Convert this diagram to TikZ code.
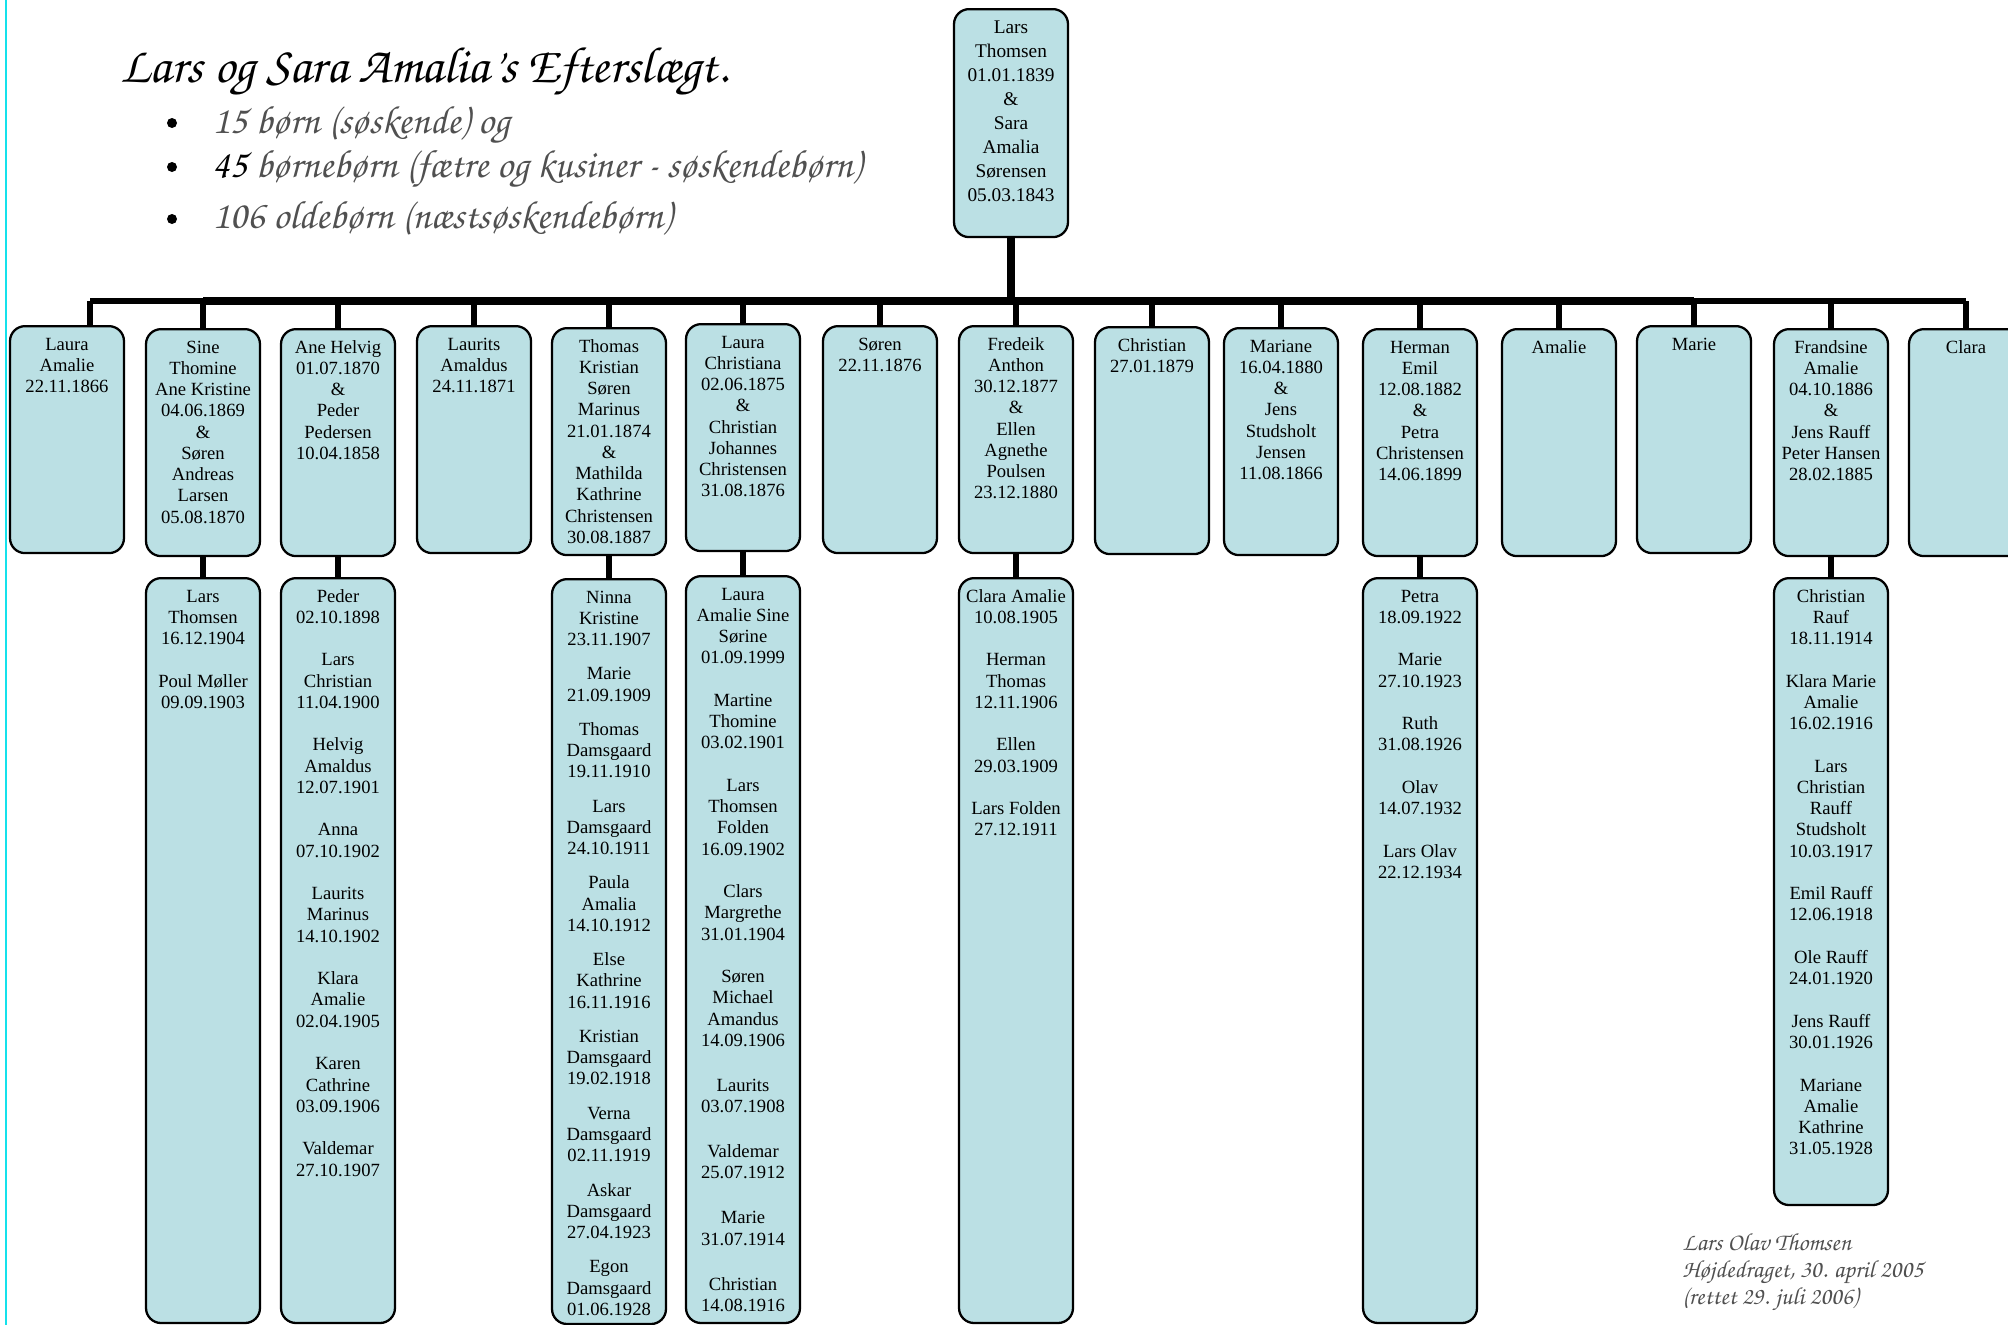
\documentclass[tikz,border=0pt]{standalone}
\usepackage[T1]{fontenc}
\usepackage{fontspec}
\setmainfont{Liberation Serif}

\definecolor{boxfill}{RGB}{187,224,228}
\definecolor{edgecyan}{RGB}{20,225,235}
\definecolor{pencil}{RGB}{80,80,80}

\newcommand{\hand}{\fontencoding{T1}\fontfamily{pzc}\fontseries{m}\fontshape{it}\selectfont}
\newcommand{\names}[2]{\parbox[t][#1][t]{2.28cm}{\centering\rule{0pt}{13.6pt}#2}}
\newcommand{\gap}{\\[12.1pt]}
\newcommand{\sgap}{\\[7.4pt]}

\begin{document}
\begin{tikzpicture}[x=0.02cm, y=-0.02cm]
  \tikzstyle{person}=[draw, line width=1.3pt, rounded corners=0.3cm, fill=boxfill, inner sep=0pt, anchor=north, font=\fontsize{10.6}{12.1}\selectfont]
  \tikzstyle{link}=[line width=3.4pt]
  \tikzstyle{trunk}=[line width=5.1pt]
  \tikzstyle{hw}=[anchor=base west, inner sep=0pt, text=pencil, font=\hand\fontsize{22.5}{26}\selectfont]
  \tikzstyle{dot}=[circle, fill, inner sep=0pt, minimum size=0.2cm]

  \useasboundingbox (0,0) rectangle (2008,1325);
  \draw[edgecyan, line width=1.5pt] (6,0) -- (6,1325);

  % heading
  \node[hw, text=black, font=\hand\fontsize{29}{33}\selectfont] (title) at (120,82) {Lars og Sara Amalia's Efterslægt.};
  \node[dot] (dot1) at (172,123) {};
  \node[dot] (dot2) at (172,167) {};
  \node[dot] (dot3) at (172,219) {};
  \node[hw] (line1) at (212,133) {15 børn (søskende) og};
  \node[hw] (line2) at (212,177) {{\color{black}45} børnebørn (fætre og kusiner - søskendebørn)};
  \node[hw] (line3) at (212,228) {106 oldebørn (næstsøskendebørn)};

  % parents
  \node[person, font=\fontsize{11}{13.7}\selectfont] (lars) at (1011,8) {\names{4.56cm}{Lars\\Thomsen\\01.01.1839\\\&\\Sara\\Amalia\\Sørensen\\05.03.1843}};

  % children
  \node[person] (c1) at (67,325) {\names{4.54cm}{Laura\\Amalie\\22.11.1866}};
  \node[person] (c2) at (203,328) {\names{4.54cm}{Sine\\Thomine\\Ane Kristine\\04.06.1869\\\&\\Søren\\Andreas\\Larsen\\05.08.1870}};
  \node[person] (c3) at (338,328) {\names{4.54cm}{Ane Helvig\\01.07.1870\\\&\\Peder\\Pedersen\\10.04.1858}};
  \node[person] (c4) at (474,325) {\names{4.54cm}{Laurits\\Amaldus\\24.11.1871}};
  \node[person] (c5) at (609,327) {\names{4.54cm}{Thomas\\Kristian\\Søren\\Marinus\\21.01.1874\\\&\\Mathilda\\Kathrine\\Christensen\\30.08.1887}};
  \node[person] (c6) at (743,323) {\names{4.54cm}{Laura\\Christiana\\02.06.1875\\\&\\Christian\\Johannes\\Christensen\\31.08.1876}};
  \node[person] (c7) at (880,325) {\names{4.54cm}{Søren\\22.11.1876}};
  \node[person] (c8) at (1016,325) {\names{4.54cm}{Fredeik\\Anthon\\30.12.1877\\\&\\Ellen\\Agnethe\\Poulsen\\23.12.1880}};
  \node[person] (c9) at (1152,326) {\names{4.54cm}{Christian\\27.01.1879}};
  \node[person] (c10) at (1281,327) {\names{4.54cm}{Mariane\\16.04.1880\\\&\\Jens\\Studsholt\\Jensen\\11.08.1866}};
  \node[person] (c11) at (1420,328) {\names{4.54cm}{Herman\\Emil\\12.08.1882\\\&\\Petra\\Christensen\\14.06.1899}};
  \node[person] (c12) at (1559,328) {\names{4.54cm}{Amalie}};
  \node[person] (c13) at (1694,325) {\names{4.54cm}{Marie}};
  \node[person] (c14) at (1831,328) {\names{4.54cm}{Frandsine\\Amalie\\04.10.1886\\\&\\Jens Rauff\\Peter Hansen\\28.02.1885}};
  \node[person] (c15) at (1966,328) {\names{4.54cm}{Clara}};

  % grandchildren
  \node[person] (g2) at (203,577) {\names{14.9cm}{Lars\\Thomsen\\16.12.1904\gap Poul Møller\\09.09.1903}};
  \node[person] (g3) at (338,577) {\names{14.9cm}{Peder\\02.10.1898\gap Lars\\Christian\\11.04.1900\gap Helvig\\Amaldus\\12.07.1901\gap Anna\\07.10.1902\gap Laurits\\Marinus\\14.10.1902\gap Klara\\Amalie\\02.04.1905\gap Karen\\Cathrine\\03.09.1906\gap Valdemar\\27.10.1907}};
  \node[person] (g5) at (609,578) {\names{14.9cm}{Ninna\\Kristine\\23.11.1907\sgap Marie\\21.09.1909\sgap Thomas\\Damsgaard\\19.11.1910\sgap Lars\\Damsgaard\\24.10.1911\sgap Paula\\Amalia\\14.10.1912\sgap Else\\Kathrine\\16.11.1916\sgap Kristian\\Damsgaard\\19.02.1918\sgap Verna\\Damsgaard\\02.11.1919\sgap Askar\\Damsgaard\\27.04.1923\sgap Egon\\Damsgaard\\01.06.1928}};
  \node[person] (g6) at (743,575) {\names{14.94cm}{Laura\\Amalie Sine\\Sørine\\01.09.1999\gap Martine\\Thomine\\03.02.1901\gap Lars\\Thomsen\\Folden\\16.09.1902\gap Clars\\Margrethe\\31.01.1904\gap Søren\\Michael\\Amandus\\14.09.1906\\[13.5pt]Laurits\\03.07.1908\\[13.5pt]Valdemar\\25.07.1912\\[13.5pt]Marie\\31.07.1914\\[13.5pt]Christian\\14.08.1916}};
  \node[person] (g8) at (1016,577) {\names{14.9cm}{Clara Amalie\\10.08.1905\gap Herman\\Thomas\\12.11.1906\gap Ellen\\29.03.1909\gap Lars Folden\\27.12.1911}};
  \node[person] (g11) at (1420,577) {\names{14.9cm}{Petra\\18.09.1922\gap Marie\\27.10.1923\gap Ruth\\31.08.1926\gap Olav\\14.07.1932\gap Lars Olav\\22.12.1934}};
  \node[person] (g14) at (1831,577) {\names{12.54cm}{Christian\\Rauf\\18.11.1914\gap Klara Marie\\Amalie\\16.02.1916\gap Lars\\Christian\\Rauff\\Studsholt\\10.03.1917\gap Emil Rauff\\12.06.1918\gap Ole Rauff\\24.01.1920\gap Jens Rauff\\30.01.1926\gap Mariane\\Amalie\\Kathrine\\31.05.1928}};

  % lines
  \coordinate (bar) at (1011,301);
  \coordinate (barend) at (90,301);
  \draw[trunk] (lars.south) -- (lars.south |- bar);
  \draw[link] (barend) -- (c2.north |- bar);
  \draw[trunk] (c2.north |- bar) -- (c13.north |- bar);
  \draw[link] (c13.north |- bar) -- (c15.north |- bar);
  \draw[link] (barend) -- (barend |- c1.north);
  \draw[link] (c2.north |- bar) -- (c2.north);
  \draw[link] (c3.north |- bar) -- (c3.north);
  \draw[link] (c4.north |- bar) -- (c4.north);
  \draw[link] (c5.north |- bar) -- (c5.north);
  \draw[link] (c6.north |- bar) -- (c6.north);
  \draw[link] (c7.north |- bar) -- (c7.north);
  \draw[link] (c8.north |- bar) -- (c8.north);
  \draw[link] (c9.north |- bar) -- (c9.north);
  \draw[link] (c10.north |- bar) -- (c10.north);
  \draw[link] (c11.north |- bar) -- (c11.north);
  \draw[link] (c12.north |- bar) -- (c12.north);
  \draw[link] (c13.north |- bar) -- (c13.north);
  \draw[link] (c14.north |- bar) -- (c14.north);
  \draw[link] (c15.north |- bar) -- (c15.north);
  \draw[link] (c2.south) -- (g2.north);
  \draw[link] (c3.south) -- (g3.north);
  \draw[link] (c5.south) -- (g5.north);
  \draw[link] (c6.south) -- (g6.north);
  \draw[link] (c8.south) -- (g8.north);
  \draw[link] (c11.south) -- (g11.north);
  \draw[link] (c14.south) -- (g14.north);

  % signature
  \node[anchor=north west, inner sep=0pt, align=left, text=pencil, font=\hand\fontsize{14}{15.4}\selectfont] (sign) at (1682,1233) {Lars Olav Thomsen\\Højdedraget, 30. april 2005\\(rettet 29. juli 2006)};
\end{tikzpicture}
\end{document}
